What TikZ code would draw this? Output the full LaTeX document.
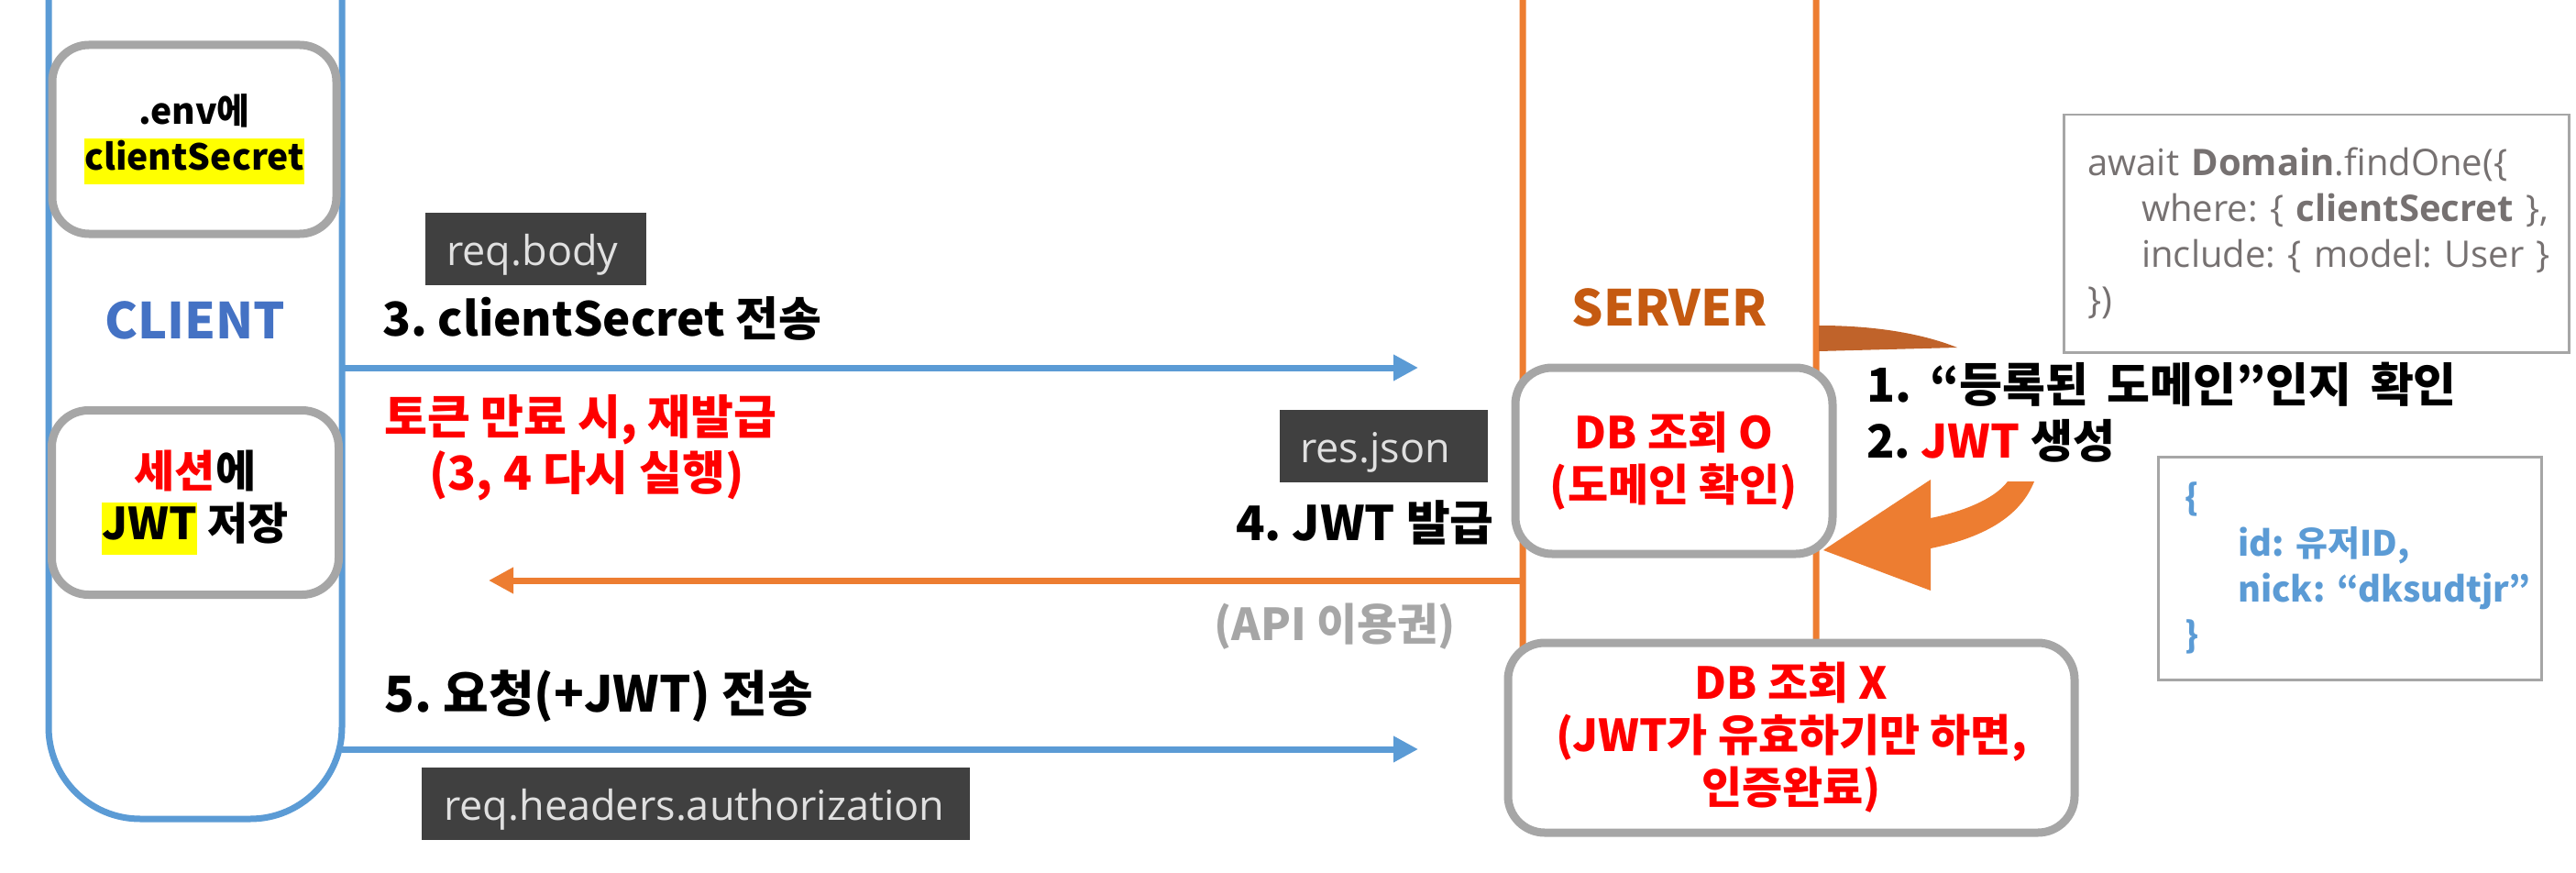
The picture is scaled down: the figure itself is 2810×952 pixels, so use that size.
\documentclass[tikz,border=0pt]{standalone}
\usepackage{fontspec}
\setmainfont{Noto Sans CJK KR}
\newfontfamily\labfont{Open Sans}
\usetikzlibrary{arrows.meta}
\definecolor{cblue}{HTML}{5B9BD5}
\definecolor{tblue}{HTML}{4472C4}
\definecolor{corange}{HTML}{ED7D31}
\definecolor{sorange}{HTML}{C55A11}
\definecolor{dorange}{HTML}{C0632A}
\definecolor{bgray}{HTML}{A6A6A6}
\definecolor{dgray}{HTML}{404040}
\definecolor{lgray}{HTML}{E0E0E0}
\definecolor{cgray}{HTML}{767171}
\definecolor{hred}{HTML}{FF0000}
\definecolor{hyel}{HTML}{FFFF00}
\newcommand\fsz[2]{\fontsize{#1}{#2}\selectfont}
\newcommand\hlt[1]{{\setlength{\fboxsep}{0pt}\colorbox{hyel}{\strut #1}}}
\frenchspacing
\begin{document}
\begin{tikzpicture}[x=1pt,y=-1pt,
  lane/.style={line width=7pt, rounded corners=100pt},
  graybox/.style={draw=bgray, line width=9pt, rounded corners=40pt, fill=white, align=center, inner sep=0pt, font=\bfseries\fsz{48}{57}},
  darklab/.style={fill=dgray, text=lgray, font=\labfont\fsz{45}{54}, inner ysep=0pt, minimum height=79pt, text height=50pt, text depth=14pt, align=left},
  msg/.style={font=\bfseries\fsz{52}{61}, inner sep=0pt},
  bluearrow/.style={draw=cblue, line width=7pt, -{Triangle[length=27pt,width=27pt]}},
  orangearrow/.style={draw=corange, line width=7pt, -{Triangle[length=27pt,width=27pt]}},
  codebox/.style={draw=bgray, line width=2.5pt, align=left, inner ysep=0pt}
]
\useasboundingbox (0,0) rectangle (2810,952);
\fill[white] (0,0) rectangle (2810,952);

% lanes
\draw[lane, draw=cblue] (53,-20) -- (53,893) -- (373,893) -- (373,-20);
\draw[lane, draw=corange] (1661,-20) -- (1661,850) -- (1981,850) -- (1981,-20);

% client boxes
\node[graybox, minimum width=310pt, minimum height=206pt, font=\bfseries\fsz{39}{50}] (env) at (212,152) {.env에\\\hlt{clientSecret}};
\node[graybox, minimum width=313pt, minimum height=201pt] (sess) at (213,548) {\textcolor{hred}{세션}에\\\hlt{JWT} 저장};
\node[font=\bfseries\fsz{54}{60}, text=tblue] (client) at (213,349) {CLIENT};

% server
\node[font=\bfseries\fsz{54}{60}, text=sorange] (server) at (1821,335) {SERVER};
\node[graybox, minimum width=346pt, minimum height=203pt, text=hred] (dbo) at (1826,502.5) {DB 조회 O\\(도메인 확인)};
\node[graybox, minimum width=618pt, minimum height=207pt, text=hred] (dbx) at (1954,804.5) {DB 조회 X\\(JWT가 유효하기만 하면,\\인증완료)};

% dark labels
\node[darklab, anchor=north west, inner xsep=23pt, text width=195pt] (reqbody) at (464,232) {req.body};
\node[darklab, anchor=north west, inner xsep=22pt, text width=183pt] (resjson) at (1396,447) {res.json};
\node[darklab, anchor=north west, inner xsep=24pt, text width=550pt] (reqhead) at (460,837) {req.headers.authorization};

% messages
\node[msg, anchor=base west, font=\bfseries\fsz{51}{61}] (m3) at (417,366) {3. clientSecret 전송};
\node[msg, anchor=base west, text=hred, font=\bfseries\fsz{51}{61}] (renew1) at (419,473) {토큰 만료 시, 재발급};
\node[msg, anchor=base, text=hred, font=\bfseries\fsz{51}{61}] (renew2) at (640,534) {(3, 4 다시 실행)};
\node[msg, anchor=base east] (m4) at (1630,589) {4. JWT 발급};
\node[msg, text=bgray, font=\bfseries\fsz{48}{61}] (api) at (1456,683) {(API 이용권)};
\node[msg, anchor=base west, font=\bfseries\fsz{54}{61}] (m5) at (419,776) {5. 요청(+JWT) 전송};

% arrows
\coordinate (c3s) at (373,401);
\coordinate (c3e) at (1547,401);
\coordinate (c4s) at (1661,633);
\coordinate (c4e) at (533,633);
\coordinate (c5s) at (373,817);
\coordinate (c5e) at (1547,817);
\draw[bluearrow] (c3s) -- (c3e);
\draw[orangearrow] (c4s) -- (c4e);
\draw[bluearrow] (c5s) -- (c5e);

% curved arrow
\fill[dorange] (1984,355) .. controls (2050,355) and (2100,365) .. (2135,379) -- (1984,383) -- cycle;
\fill[corange] (2106,523) -- (1989,600) -- (2106,644) -- (2106,598) .. controls (2170,585) and (2205,560) .. (2219,525) -- (2190,525) .. controls (2175,545) and (2140,558) .. (2106,565) -- cycle;
\node[msg, anchor=base west, font=\bfseries\fsz{51}{61}] (s1) at (2036,438) {\spaceskip=.4em 1. “등록된 도메인”인지 확인};
\node[msg, anchor=base west, font=\bfseries\fsz{50}{61}] (s2) at (2036,499) {2. \textcolor{hred}{JWT} 생성};

% code boxes
\node[codebox, anchor=north west, minimum height=259pt, inner xsep=26pt, text width=499pt, text=cgray, font=\labfont\fsz{40}{50}] (code1) at (2250,124) {\mbox{await \textbf{Domain}.findOne(\{}\\\mbox{\hspace*{59pt}where: \{ \textbf{clientSecret} \},}\\\mbox{\hspace*{59pt}include: \{ model: User \}}\\\mbox{\})}};
\node[codebox, anchor=north west, minimum height=243pt, inner xsep=29pt, text width=360pt, text=cblue, font=\bfseries\fsz{38}{50}] (code2) at (2353,497) {\{\\\mbox{\hspace*{58pt}id: 유저ID,}\\\mbox{\hspace*{58pt}nick: “dksudtjr”}\\\}};
\end{tikzpicture}
\end{document}
